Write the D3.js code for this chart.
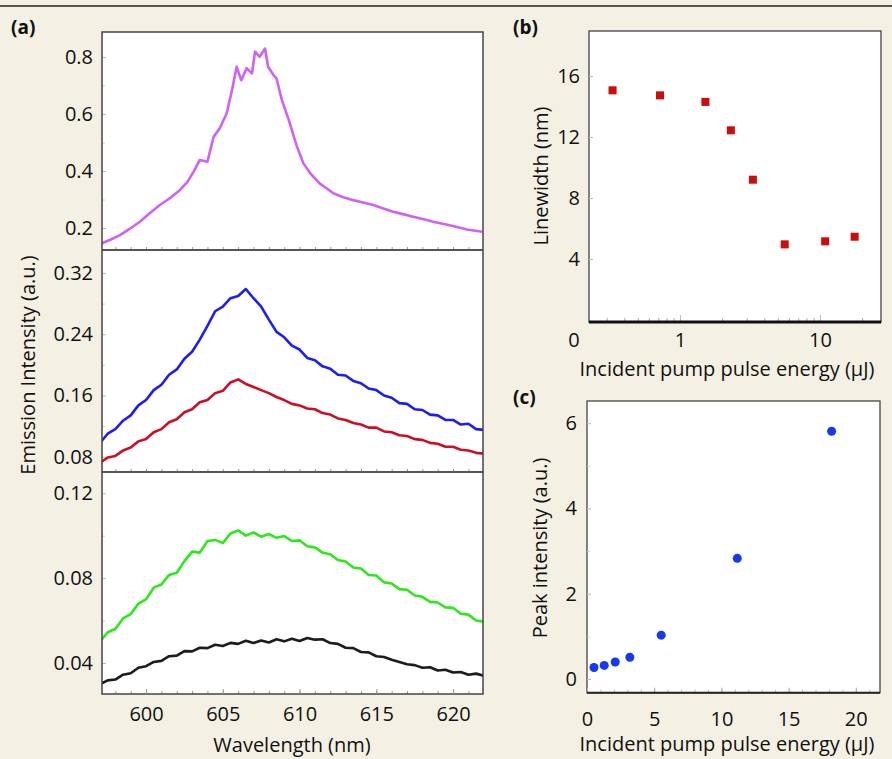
<!DOCTYPE html>
<html>
<head>
<meta charset="utf-8">
<script src="https://cdn.jsdelivr.net/npm/d3@7"></script>
<style>
  body { margin: 0; background: #f4f0e4; }
  text { font-family: "Open Sans", sans-serif; fill: #111; }
</style>
</head>
<body>
<script>
// ---- panel (a) spectra ----
var wlPink = [597.1, 597.7, 598.3, 598.9, 599.6, 600.2, 600.9, 601.5, 602.2, 602.7, 603.1, 603.5, 604.0, 604.4, 604.8,
              605.25, 605.6, 605.9, 606.2, 606.55, 606.9, 607.1, 607.4, 607.75, 607.95, 608.3, 608.5, 608.85, 609.3,
              609.8, 610.25, 610.7, 611.3, 611.8, 612.2, 612.8, 613.5, 614.2, 614.8, 615.5, 616.1, 616.8, 617.4,
              618.1, 618.7, 619.4, 620.0, 620.9, 621.9];
var pink = [0.146, 0.160, 0.175, 0.196, 0.222, 0.250, 0.281, 0.303, 0.333, 0.362, 0.398, 0.439, 0.433, 0.520, 0.550,
            0.602, 0.684, 0.766, 0.719, 0.761, 0.743, 0.819, 0.801, 0.830, 0.766, 0.737, 0.725, 0.649, 0.579,
            0.491, 0.427, 0.392, 0.357, 0.338, 0.322, 0.309, 0.298, 0.289, 0.281, 0.268, 0.257, 0.248, 0.240,
            0.231, 0.222, 0.214, 0.207, 0.195, 0.187];

var wl = [597.0, 597.5, 598.0, 598.5, 599.0, 599.5, 600.0, 600.5, 601.0, 601.5, 602.0, 602.5, 603.0, 603.5, 604.0,
          604.5, 605.0, 605.5, 606.0, 606.5, 607.0, 607.5, 608.0, 608.5, 609.0, 609.5, 610.0, 610.5, 611.0, 611.5,
          612.0, 612.5, 613.0, 613.5, 614.0, 614.5, 615.0, 615.5, 616.0, 616.5, 617.0, 617.5, 618.0, 618.5, 619.0,
          619.5, 620.0, 620.5, 621.0, 621.5, 622.0];
var blue = [0.098, 0.110, 0.116, 0.127, 0.134, 0.147, 0.154, 0.167, 0.174, 0.187, 0.194, 0.208, 0.217, 0.233, 0.251,
            0.270, 0.276, 0.287, 0.290, 0.299, 0.287, 0.276, 0.259, 0.243, 0.236, 0.225, 0.220, 0.209, 0.206, 0.198,
            0.195, 0.187, 0.186, 0.179, 0.176, 0.169, 0.167, 0.160, 0.157, 0.150, 0.149, 0.142, 0.141, 0.135, 0.134,
            0.128, 0.128, 0.122, 0.123, 0.116, 0.115];
var red = [0.072, 0.079, 0.081, 0.088, 0.092, 0.100, 0.103, 0.112, 0.116, 0.125, 0.129, 0.138, 0.142, 0.151, 0.154,
           0.163, 0.166, 0.177, 0.181, 0.175, 0.171, 0.167, 0.163, 0.158, 0.154, 0.149, 0.147, 0.143, 0.142, 0.137,
           0.135, 0.130, 0.128, 0.124, 0.122, 0.118, 0.118, 0.113, 0.112, 0.108, 0.107, 0.103, 0.102, 0.098, 0.097,
           0.093, 0.093, 0.089, 0.088, 0.085, 0.084];
var green = [0.0500, 0.0545, 0.0560, 0.0610, 0.0630, 0.0680, 0.0700, 0.0755, 0.0770, 0.0815, 0.0825, 0.0880, 0.0925,
             0.0920, 0.0975, 0.0980, 0.0965, 0.1010, 0.1025, 0.1000, 0.1015, 0.0995, 0.1008, 0.0990, 0.0998, 0.0975,
             0.0978, 0.0950, 0.0945, 0.0920, 0.0912, 0.0885, 0.0878, 0.0850, 0.0845, 0.0815, 0.0812, 0.0780, 0.0775,
             0.0748, 0.0745, 0.0718, 0.0712, 0.0688, 0.0685, 0.0662, 0.0660, 0.0632, 0.0628, 0.0600, 0.0595];
var black = [0.0300, 0.0318, 0.0322, 0.0345, 0.0352, 0.0378, 0.0385, 0.0405, 0.0410, 0.0432, 0.0435, 0.0456, 0.0455,
             0.0472, 0.0470, 0.0486, 0.0480, 0.0495, 0.0490, 0.0505, 0.0494, 0.0506, 0.0497, 0.0512, 0.0502, 0.0514,
             0.0504, 0.0518, 0.0510, 0.0512, 0.0494, 0.0490, 0.0472, 0.0470, 0.0452, 0.0450, 0.0432, 0.0428, 0.0415,
             0.0405, 0.0394, 0.0390, 0.0378, 0.0380, 0.0365, 0.0368, 0.0355, 0.0358, 0.0345, 0.0350, 0.0340];

var wlTicks = [600, 605, 610, 615, 620];
var topTicks = [0.2, 0.4, 0.6, 0.8];
var midTicks = [0.08, 0.16, 0.24, 0.32];
var lowTicks = [0.04, 0.08, 0.12];

// ---- panel (b) linewidth ----
var energyB = [0.33, 0.72, 1.52, 2.31, 3.32, 5.6, 10.9, 17.7];
var linewidth = [15.06, 14.73, 14.3, 12.44, 9.2, 4.96, 5.16, 5.46];
var lwTicks = [4, 8, 12, 16];

// ---- panel (c) peak intensity ----
var energyC = [0.52, 1.28, 2.1, 3.19, 5.52, 11.18, 18.2];
var peak = [0.27, 0.32, 0.40, 0.51, 1.03, 2.83, 5.81];
var peakTicks = [0, 2, 4, 6];
var energyTicks = [0, 5, 10, 15, 20];

var W = 892, H = 759;
var svg = d3.select("body").append("svg")
            .attr('width', W)
            .attr('height', H);

// soft edge, the lines in the original are a bit fuzzy
svg.append("defs").append("filter").attr('id', "soft")
   .append("feGaussianBlur").attr('stdDeviation', 0.45);

svg.append("rect").attr('width', W).attr('height', H).attr('fill', "#f4f0e4");
svg.append("line").attr('x1', 0).attr('x2', W).attr('y1', 6).attr('y2', 6)
   .attr('stroke', "#222").attr('stroke-width', 1.5);

function styleAxis(g, tickColor) {
  g.select(".domain").remove();
  g.selectAll(".tick line").attr('stroke', tickColor || "#aaa");
  g.selectAll(".tick text").style('font-size', "20px").attr('fill', "#111");
}

// ================= panel (a) =================
var xA = d3.scaleLinear().domain([597.13, 621.95]).range([102, 483]);
var subs = [
  { top: 32,  bottom: 250, domain: [0.123, 0.888], ticks: topTicks, fmt: ".1f",
    series: [{x: wlPink, y: pink, color: "#cf62f2"}] },
  { top: 250, bottom: 472, domain: [0.060, 0.350], ticks: midTicks, fmt: ".2f",
    series: [{x: wl, y: red, color: "#cc1028"}, {x: wl, y: blue, color: "#1c1cf5"}] },
  { top: 472, bottom: 694, domain: [0.0254, 0.130], ticks: lowTicks, fmt: ".2f",
    series: [{x: wl, y: black, color: "#1a1a1a"}, {x: wl, y: green, color: "#2de81c"}] }
];

svg.append("rect").attr('x', 102).attr('y', 32).attr('width', 381).attr('height', 662)
   .attr('fill', "#fff");

subs.forEach(function(s, i) {
  var y = d3.scaleLinear().domain(s.domain).range([s.bottom, s.top]);

  var clipId = "clipA" + i;
  svg.append("clipPath").attr('id', clipId)
     .append("rect").attr('x', 102).attr('y', s.top).attr('width', 381).attr('height', s.bottom - s.top);

  // minor ticks on the y axis
  var minor = [];
  s.ticks.forEach(function(t, k) {
    if (k > 0) minor.push((t + s.ticks[k - 1]) / 2);
  });
  minor.push(s.ticks[s.ticks.length - 1] + (s.ticks[1] - s.ticks[0]) / 2);
  svg.append("g")
     .attr('transform', "translate(102,0)")
     .call(d3.axisLeft(y).tickValues(minor.filter(function(v){ return v < s.domain[1]; }))
             .tickSizeInner(-3).tickFormat(""))
     .call(styleAxis, "#ccc");

  svg.append("g")
     .attr('transform', "translate(102,0)")
     .call(d3.axisLeft(y).tickValues(s.ticks).tickSizeInner(-4).tickPadding(9)
             .tickFormat(d3.format(s.fmt)))
     .call(styleAxis, "#bbb");

  // x minor ticks along the bottom of each sub panel
  svg.append("g")
     .attr('transform', "translate(0," + s.bottom + ")")
     .call(d3.axisBottom(xA).tickValues(d3.range(598, 622, 1)).tickSizeInner(-3).tickFormat(""))
     .call(styleAxis, "#999");

  var line = d3.line()
               .x(function(d){ return xA(d[0]); })
               .y(function(d){ return y(d[1]); });

  var grp = svg.append("g").attr('clip-path', "url(#" + clipId + ")");
  s.series.forEach(function(ser) {
    grp.append("path")
       .datum(d3.zip(ser.x, ser.y))
       .attr('d', line)
       .attr('fill', "none")
       .attr('stroke', ser.color)
       .attr('stroke-width', 2.6)
       .attr('stroke-linejoin', "round")
       .attr('filter', "url(#soft)");
  });

  if (i > 0) {
    svg.append("line").attr('x1', 102).attr('x2', 483).attr('y1', s.top).attr('y2', s.top)
       .attr('stroke', "#555").attr('stroke-width', 2.2);
  }
});

svg.append("rect").attr('x', 102).attr('y', 32).attr('width', 381).attr('height', 662)
   .attr('fill', "none").attr('stroke', "#444").attr('stroke-width', 1.5);

svg.append("g")
   .attr('transform', "translate(0,694)")
   .call(d3.axisBottom(xA).tickValues(wlTicks).tickSizeInner(-5).tickPadding(13))
   .call(styleAxis, "#999");

svg.append("text").attr('x', 292).attr('y', 752).attr('text-anchor', "middle")
   .style('font-size', "20px").text("Wavelength (nm)");
svg.append("text").attr('transform', "translate(35,365) rotate(-90)").attr('text-anchor', "middle")
   .style('font-size', "20px").text("Emission Intensity (a.u.)");
svg.append("text").attr('x', 11).attr('y', 34).style('font-size', "19px").style('font-weight', "bold")
   .text("(a)");

// ================= panel (b) =================
var xB = d3.scaleLog().domain([0.224, 27.3]).range([589, 881]);
var yB = d3.scaleLinear().domain([-0.13, 18.95]).range([322, 31]);

svg.append("rect").attr('x', 589).attr('y', 31).attr('width', 292).attr('height', 291)
   .attr('fill', "#fff").attr('stroke', "#444").attr('stroke-width', 1.3);

svg.append("g")
   .attr('transform', "translate(589,0)")
   .call(d3.axisLeft(yB).tickValues(lwTicks).tickSizeInner(-4).tickPadding(9))
   .call(styleAxis, "#bbb");

svg.append("g")
   .attr('transform', "translate(0,322)")
   .call(d3.axisBottom(xB).tickValues([0.3, 0.4, 0.5, 0.6, 0.7, 0.8, 0.9, 2, 3, 4, 5, 6, 7, 8, 9, 20])
           .tickSizeInner(-4).tickFormat(""))
   .call(styleAxis, "#aaa");

svg.append("g")
   .attr('transform', "translate(0,322)")
   .call(d3.axisBottom(xB).tickValues([1, 10]).tickSizeInner(-7).tickPadding(11)
           .tickFormat(d3.format("d")))
   .call(styleAxis, "#bbb");

svg.append("text").attr('x', xB.range()[0] - 15).attr('y', 322).attr('dy', "1.26em")
   .attr('text-anchor', "middle").style('font-size', "20px").text("0");

svg.append("line").attr('x1', 589).attr('x2', 881).attr('y1', 322).attr('y2', 322)
   .attr('stroke', "#111").attr('stroke-width', 3);

svg.selectAll("rect.lw")
   .data(d3.zip(energyB, linewidth))
   .enter()
   .append("rect")
   .attr('class', "lw")
   .attr('x', function(d){ return xB(d[0]) - 4; })
   .attr('y', function(d){ return yB(d[1]) - 4; })
   .attr('width', 8)
   .attr('height', 8)
   .attr('fill', "#cc0a0a")
   .attr('filter', "url(#soft)");

svg.append("text").attr('x', 727).attr('y', 376).attr('text-anchor', "middle")
   .style('font-size', "20px").text("Incident pump pulse energy (\u03bcJ)");
svg.append("text").attr('transform', "translate(548,176) rotate(-90)").attr('text-anchor', "middle")
   .style('font-size', "20px").text("Linewidth (nm)");
svg.append("text").attr('x', 513).attr('y', 34).style('font-size', "19px").style('font-weight', "bold")
   .text("(b)");

// ================= panel (c) =================
var xC = d3.scaleLinear().domain([0, 21.8]).range([587, 880]);
var yC = d3.scaleLinear().domain([-0.32, 6.52]).range([692.7, 401]);

svg.append("rect").attr('x', 587).attr('y', 401).attr('width', 293).attr('height', 291.7)
   .attr('fill', "#fff").attr('stroke', "#444").attr('stroke-width', 1.3);

svg.append("g")
   .attr('transform', "translate(587,0)")
   .call(d3.axisLeft(yC).tickValues([1, 3, 5]).tickSizeInner(-3).tickFormat(""))
   .call(styleAxis, "#ccc");
svg.append("g")
   .attr('transform', "translate(587,0)")
   .call(d3.axisLeft(yC).tickValues(peakTicks).tickSizeInner(-4).tickPadding(10)
           .tickFormat(d3.format("d")))
   .call(styleAxis, "#bbb");

svg.append("g")
   .attr('transform', "translate(0,692.7)")
   .call(d3.axisBottom(xC).tickValues(d3.range(1, 22, 1)).tickSizeInner(-3).tickFormat(""))
   .call(styleAxis, "#bbb");
svg.append("g")
   .attr('transform', "translate(0,692.7)")
   .call(d3.axisBottom(xC).tickValues(energyTicks).tickSizeInner(-5).tickPadding(19)
           .tickFormat(d3.format("d")))
   .call(styleAxis, "#aaa");

svg.append("line").attr('x1', 587).attr('x2', 880).attr('y1', 692.7).attr('y2', 692.7)
   .attr('stroke', "#222").attr('stroke-width', 2);

svg.selectAll("circle.pk")
   .data(d3.zip(energyC, peak))
   .enter()
   .append("circle")
   .attr('class', "pk")
   .attr('cx', function(d){ return xC(d[0]); })
   .attr('cy', function(d){ return yC(d[1]); })
   .attr('r', 4.5)
   .attr('fill', "#1638f5")
   .attr('filter', "url(#soft)");

svg.append("text").attr('x', 727).attr('y', 751).attr('text-anchor', "middle")
   .style('font-size', "20px").text("Incident pump pulse energy (\u03bcJ)");
svg.append("text").attr('transform', "translate(547,548) rotate(-90)").attr('text-anchor', "middle")
   .style('font-size', "20px").text("Peak intensity (a.u.)");
svg.append("text").attr('x', 513).attr('y', 404).style('font-size', "19px").style('font-weight', "bold")
   .text("(c)");
</script>
</body>
</html>
